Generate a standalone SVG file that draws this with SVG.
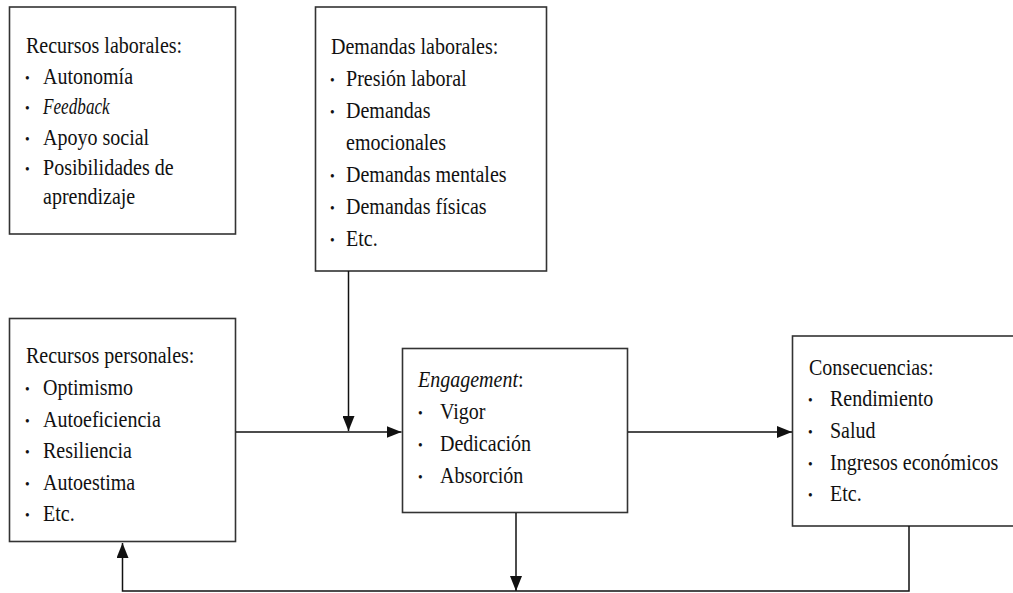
<svg xmlns="http://www.w3.org/2000/svg" width="1013" height="593" viewBox="0 0 1013 593">
<defs>
<marker id="ah" markerUnits="userSpaceOnUse" markerWidth="15" markerHeight="12" refX="15" refY="6" orient="auto">
<path d="M0,0 L15,6 L0,12 z" fill="#111"/>
</marker>
<style>
.box{fill:#fff;stroke:#333;stroke-width:1.6}
.t{font-family:"Liberation Serif","Times New Roman",serif;font-size:22.5px;fill:#111}
.b{font-family:"Liberation Serif","Times New Roman",serif;font-size:15px;fill:#111}
.it{font-style:italic}
.c{fill:none;stroke:#111;stroke-width:1.5}
</style>
</defs>
<rect width="1013" height="593" fill="#fff"/>
<g id="recursos-laborales">
<rect class="box" x="9.5" y="7" width="226" height="227"/>
<g transform="translate(26 0) scale(0.89 1)">
<text class="t" x="0" y="53">Recursos laborales:</text>
<text class="b" x="-1" y="83">•</text><text class="t" x="19.1" y="84">Autonomía</text>
<text class="b" x="-1" y="113.5">•</text><text class="t it" x="19.1" y="114.5" textLength="75" lengthAdjust="spacingAndGlyphs">Feedback</text>
<text class="b" x="-1" y="144">•</text><text class="t" x="19.1" y="145">Apoyo social</text>
<text class="b" x="-1" y="174">•</text><text class="t" x="19.1" y="175">Posibilidades de</text>
<text class="t" x="19.1" y="204.5">aprendizaje</text>
</g>
</g>
<g id="demandas-laborales">
<rect class="box" x="315.5" y="7" width="231" height="264"/>
<g transform="translate(331 0) scale(0.89 1)">
<text class="t" x="0" y="54">Demandas laborales:</text>
<text class="b" x="-1" y="85">•</text><text class="t" x="16.9" y="86">Presión laboral</text>
<text class="b" x="-1" y="117">•</text><text class="t" x="16.9" y="118">Demandas</text>
<text class="t" x="16.9" y="150">emocionales</text>
<text class="b" x="-1" y="181">•</text><text class="t" x="16.9" y="182">Demandas mentales</text>
<text class="b" x="-1" y="213">•</text><text class="t" x="16.9" y="214">Demandas físicas</text>
<text class="b" x="-1" y="245">•</text><text class="t" x="16.9" y="246">Etc.</text>
</g>
</g>
<g id="recursos-personales">
<rect class="box" x="9.5" y="318.5" width="226" height="223"/>
<g transform="translate(26 0) scale(0.89 1)">
<text class="t" x="0" y="363">Recursos personales:</text>
<text class="b" x="-1" y="394">•</text><text class="t" x="19.1" y="395">Optimismo</text>
<text class="b" x="-1" y="426">•</text><text class="t" x="19.1" y="427">Autoeficiencia</text>
<text class="b" x="-1" y="457">•</text><text class="t" x="19.1" y="458">Resiliencia</text>
<text class="b" x="-1" y="489">•</text><text class="t" x="19.1" y="490">Autoestima</text>
<text class="b" x="-1" y="520">•</text><text class="t" x="19.1" y="521">Etc.</text>
</g>
</g>
<g id="engagement">
<rect class="box" x="402.5" y="348.5" width="225" height="164"/>
<g transform="translate(418 0) scale(0.89 1)">
<text class="t" x="0" y="387.5"><tspan class="it">Engagement</tspan>:</text>
<text class="b" x="0" y="418">•</text><text class="t" x="24.7" y="419">Vigor</text>
<text class="b" x="0" y="450">•</text><text class="t" x="24.7" y="451">Dedicación</text>
<text class="b" x="0" y="482">•</text><text class="t" x="24.7" y="483">Absorción</text>
</g>
</g>
<g id="consecuencias">
<rect class="box" x="792.5" y="336" width="225" height="190"/>
<g transform="translate(809 0) scale(0.89 1)">
<text class="t" x="0" y="375">Consecuencias:</text>
<text class="b" x="-1" y="405.5">•</text><text class="t" x="23.6" y="406.5">Rendimiento</text>
<text class="b" x="-1" y="437">•</text><text class="t" x="23.6" y="438">Salud</text>
<text class="b" x="-1" y="469">•</text><text class="t" x="23.6" y="470">Ingresos económicos</text>
<text class="b" x="-1" y="500.5">•</text><text class="t" x="23.6" y="501.5">Etc.</text>
</g>
</g>
<g id="connectors">
<path class="c" d="M236,432 H401.5" marker-end="url(#ah)"/>
<path class="c" d="M348.5,271 V431" marker-end="url(#ah)"/>
<path class="c" d="M628,432 H792" marker-end="url(#ah)"/>
<path class="c" d="M516,513 V591" marker-end="url(#ah)"/>
<path class="c" d="M909,526 V591 H122.5 V543" marker-end="url(#ah)"/>
</g>
</svg>
